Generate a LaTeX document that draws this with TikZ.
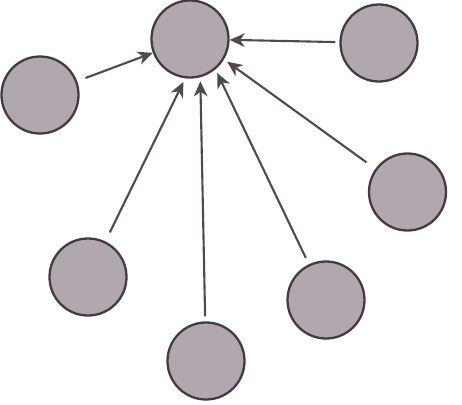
\documentclass[tikz,border=0pt]{standalone}
\usepackage{xcolor}
\usepackage{tikz}
\usetikzlibrary{arrows.meta,positioning,calc}

\definecolor{ballfill}{RGB}{177,167,174}
\definecolor{balledge}{RGB}{66,60,66}
\definecolor{linkgray}{RGB}{80,74,80}

\begin{document}
\begin{tikzpicture}[
    ball/.style={circle, draw=balledge, line width=1.3pt, fill=ballfill, minimum size=1.54cm, inner sep=0pt},
    arrow/.style={-{Stealth[length=3mm,width=2.7mm,inset=0.9mm]}, line width=1.2pt, draw=linkgray, shorten <=1.8mm},
    gap/.style={shorten >=0.8mm}
]
\useasboundingbox (0,0) rectangle (9.24,8.08);

\node[ball] (hub) at (3.80,7.30) {};
\node[ball] (topright) at (7.58,7.22) {};
\node[ball] (left) at (0.80,6.18) {};
\node[ball] (right) at (8.15,4.24) {};
\node[ball] (lowleft) at (1.76,2.54) {};
\node[ball] (bottom) at (4.12,0.86) {};
\node[ball] (lowright) at (6.52,2.08) {};

% incoming links
\draw[arrow] (left) -- (hub);
\draw[arrow, shorten <=0.8mm] (topright) -- (hub);
\draw[arrow, gap, shorten <=2mm] (lowleft) -- (hub.263);
\draw[arrow, gap, shorten <=1mm] (bottom) -- (hub.285);
\draw[arrow, gap, shorten <=1.4mm] (lowright) -- (hub.310);
\draw[arrow, gap, shorten <=2.2mm] (right) -- (hub.329);

\end{tikzpicture}
\end{document}
